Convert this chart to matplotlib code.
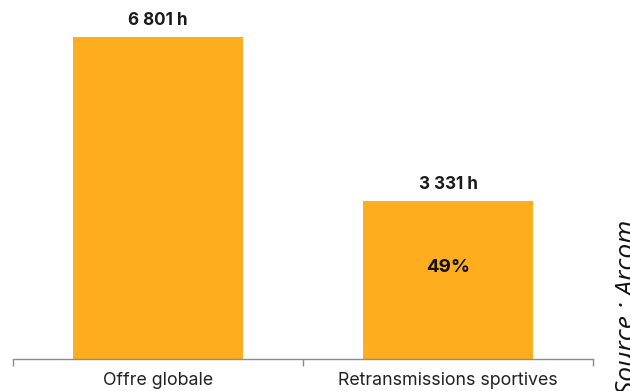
import matplotlib
matplotlib.use("Agg")
import matplotlib.pyplot as plt

categories = ["Offre globale", "Retransmissions sportives"]
values = [6801, 3331]
value_labels = ["6 801 h", "3 331 h"]
inner_labels = ["", "49%"]
source = "Source : Arcom"

plt.rcParams['font.family'] = ['Inter', 'DejaVu Sans']

fig = plt.figure(figsize=(6.3, 3.91), dpi=100)
ax = fig.add_axes([13/630, 32/391, (593-13)/630, 359/391])
x = list(range(len(categories)))
bars = ax.bar(x, values, width=0.583, color="#FDAD1E")
ax.set_xlim(-0.5, len(categories) - 0.5)
ax.set_ylim(0, 6801 * 359 / 322)

for xi, v, lab, inner in zip(x, values, value_labels, inner_labels):
    ax.annotate(lab, (xi, v), xytext=(0, 8.6), textcoords="offset points",
                ha="center", va="baseline", fontsize=12.3, fontweight="bold", color="#1a1a1a")
    if inner:
        ax.annotate(inner, (xi, v / 2), xytext=(0, 9.4), textcoords="offset points",
                    ha="center", va="center", fontsize=13.5,
                    fontweight="bold", color="#111111")

for s in ["top", "right", "left"]:
    ax.spines[s].set_visible(False)
ax.spines["bottom"].set_color("#8c8c8c")
ax.spines["bottom"].set_linewidth(1.0)
ax.set_yticks([])
ax.set_xticks([-0.5, 0.5, 1.5], minor=False)
ax.set_xticklabels([])
ax.tick_params(axis="x", which="major", length=5, color="#8c8c8c", width=1.0)
ax.set_xticks(x, minor=True)
ax.set_xticklabels(categories, minor=True, fontsize=12.8, color="#222222")
ax.tick_params(axis="x", which="minor", length=0, pad=9.5)

fig.text(634/630, -3/391, source, rotation=90, rotation_mode="anchor",
         ha="left", va="baseline", fontsize=19, style="italic", color="#111111",
         family=["Open Sans", "DejaVu Sans"])

fig.savefig("out.png", dpi=100)
